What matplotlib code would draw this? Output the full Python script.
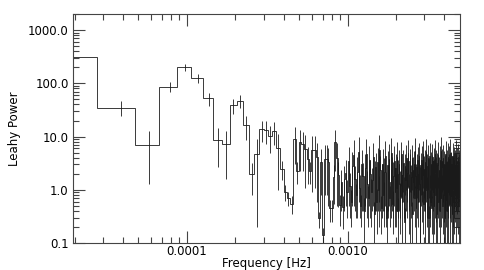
import numpy as np
import matplotlib
matplotlib.use("Agg")
import matplotlib.pyplot as plt
from matplotlib.ticker import FixedLocator, FormatStrFormatter, LogLocator, NullFormatter

# frequency resolution of the periodogram (Hz) and number of bins
df = 1.95e-5
nbins = 256

# Leahy powers, one per frequency bin k = 1..256
power = [
    317, 35, 7.0, 86, 200, 125, 52, 8.7, 7.1, 39,
    47, 16.6, 2.0, 4.6, 13.9, 13.3, 10.4, 12.9, 6.0, 2.5,
    0.91, 0.69, 0.55, 9.1, 2.3, 7.8, 7.3, 5.9, 3.8, 2.3,
    5.6, 5.6, 4.1, 0.29, 3.3, 0.14, 3.8, 3.8, 3.3, 0.45,
    0.45, 1.74, 7.8, 4.0, 1.87, 0.51, 1.4, 0.48, 1.6,
    2.1, 0.9, 3.4, 1.2, 0.6, 2.8, 4.5, 1.6, 0.8, 2.2,
    5.2, 1.1, 0.5, 3.0, 1.8, 0.4, 2.6, 4.8, 1.3, 0.7,
    3.6, 2.0, 0.9, 1.5, 4.1, 0.35, 1.9, 2.7, 0.6, 3.3,
    1.0, 5.6, 2.4, 0.45, 1.7, 3.1, 0.8, 2.2, 4.4, 1.2,
    0.3, 2.9, 1.6, 3.8, 0.7, 1.4, 5.0, 2.3, 0.55, 1.8,
    3.5, 0.9, 2.6, 1.1, 4.2, 0.4, 2.0, 3.0, 1.3, 0.75,
    2.5, 4.6, 0.6, 1.9, 3.2, 1.0, 0.25, 2.8, 1.5, 3.9,
    0.8, 2.1, 4.9, 1.2, 0.5, 3.4, 2.2, 0.9, 1.7, 4.0,
    0.35, 2.4, 1.4, 3.1, 0.7, 5.3, 1.8, 0.45, 2.7, 1.1,
    3.6, 0.6, 2.0, 4.3, 1.3, 0.3, 2.9, 1.6, 3.7, 0.85,
    1.9, 4.7, 0.55, 2.5, 1.2, 3.3, 0.4, 2.1, 5.1, 1.0,
    0.7, 2.8, 1.5, 3.9, 0.3, 2.3, 4.4, 1.1, 0.6, 3.0,
    1.7, 0.45, 2.6, 4.1, 0.9, 1.4, 3.5, 0.5, 2.2, 1.2,
    4.8, 0.8, 2.0, 3.2, 0.35, 1.6, 2.9, 1.0, 4.5, 0.6,
    2.4, 1.3, 3.7, 0.4, 1.9, 5.4, 0.7, 2.7, 1.1, 3.4,
    0.5, 2.1, 4.0, 1.4, 0.8, 3.1, 1.8, 0.3, 2.6, 4.6,
    1.2, 0.65, 3.3, 2.0, 0.4, 1.5, 4.2, 0.9, 2.8, 1.6,
    3.8, 0.55, 2.3, 1.0, 5.0, 0.75, 1.7, 3.0, 0.35, 2.5,
    1.3, 4.4, 0.6, 2.0, 3.6, 1.1, 0.45, 2.9, 1.5, 3.2,
    0.8, 4.9, 1.9, 0.4, 2.6, 1.2, 3.5, 0.7, 2.2, 1.4,
    4.1, 0.5, 2.7, 1.0, 3.3, 0.6, 2.0,
]

# 1-sigma error on each power
error = [
    0.0, 11.0, 5.7, 18.0, 29.0, 22.0, 14.4, 6.0, 5.5, 12.0,
    13.0, 8.0, 1.2, 4.4, 6.0, 6.0, 5.5, 6.0, 5.0, 1.0,
    0.3, 0.2, 0.2, 6.0, 1.0, 5.5, 5.0, 4.8, 2.5, 1.0,
    4.7, 4.5, 3.5, 0.1, 2.5, 0.05, 3.0, 3.0, 2.8, 0.2,
    0.2, 1.2, 5.5, 3.5, 1.4, 0.3, 1.0, 0.3, 1.2,
    1.6, 0.6, 2.9, 0.9, 0.4, 2.3, 4.0, 1.2, 0.5, 1.9,
    4.6, 0.8, 0.3, 2.6, 1.4, 0.3, 2.1, 4.1, 1.0, 0.5,
    3.1, 1.7, 0.7, 1.1, 3.6, 0.25, 1.5, 2.3, 0.45, 2.9,
    0.8, 5.0, 2.0, 0.3, 1.4, 2.7, 0.6, 1.8, 3.9, 1.0,
    0.2, 2.5, 1.3, 3.3, 0.5, 1.1, 4.5, 1.9, 0.4, 1.5,
    3.0, 0.7, 2.2, 0.9, 3.8, 0.3, 1.7, 2.6, 1.0, 0.6,
    1.8, 3.4, 0.7, 1.3, 2.3, 0.7, 0.2, 2.0, 1.1, 2.9,
    0.5, 1.5, 3.8, 0.8, 0.35, 2.5, 2.4, 0.6, 1.2, 3.0,
    0.25, 1.7, 1.0, 2.3, 0.5, 4.2, 1.3, 0.5, 2.0, 0.8,
    2.7, 0.4, 1.4, 3.3, 1.4, 0.2, 2.1, 1.1, 2.8, 0.6,
    1.3, 3.6, 0.4, 1.8, 0.8, 2.4, 0.45, 1.5, 4.0, 0.7,
    0.5, 2.0, 1.6, 2.9, 0.2, 1.6, 3.3, 0.8, 0.4, 2.2,
    1.2, 0.3, 1.9, 3.1, 0.95, 1.0, 2.6, 0.35, 1.6, 0.9,
    3.7, 0.55, 2.1, 2.3, 0.25, 1.1, 2.1, 0.7, 3.4, 0.4,
    1.7, 0.9, 2.8, 0.45, 1.3, 4.2, 0.5, 2.0, 0.8, 2.5,
    0.35, 1.5, 3.0, 1.5, 0.55, 2.3, 1.3, 0.2, 1.9, 3.5,
    0.8, 0.45, 2.4, 1.4, 0.3, 1.6, 3.2, 0.6, 2.0, 1.1,
    2.9, 0.6, 1.6, 0.7, 3.9, 0.5, 1.2, 2.2, 0.25, 1.8,
    0.9, 3.3, 0.4, 2.1, 2.7, 0.8, 0.3, 2.1, 1.0, 2.4,
    0.55, 3.8, 1.3, 0.45, 1.9, 0.85, 2.6, 0.5, 1.6, 1.0,
    3.1, 0.35, 2.0, 1.05, 2.4, 0.4, 1.4,
]

ytick_vals = [0.1, 1.0, 10.0, 100.0, 1000.0]
xtick_vals = [1e-4, 1e-3]

power = np.array(power, dtype=float)
error = np.array(error, dtype=float)
freq = df * np.arange(1, len(power) + 1)

# bin edges half-way (in log space) between neighbouring frequencies
mids = np.sqrt(freq[:-1] * freq[1:])
edges = np.concatenate([[freq[0]], mids, [freq[-1]]])

plt.rcParams['font.family'] = ['DejaVu Sans']
fig = plt.figure(figsize=(4.85, 2.70), dpi=100)
ax = fig.add_axes([0.150, 0.100, 0.798, 0.848])

ax.stairs(power, edges, baseline=None, color='#1a1a1a', linewidth=0.6)
lower = np.minimum(error, power - 1e-4)
ax.errorbar(freq, power, yerr=[lower, error], fmt='none', ecolor='#1a1a1a',
            elinewidth=0.6, capsize=0)

ax.set_xscale('log')
ax.set_yscale('log')
ax.set_xlim(df, df * nbins)
ax.set_ylim(0.1, 2000)

ax.xaxis.set_major_locator(FixedLocator(xtick_vals))
ax.xaxis.set_major_formatter(FormatStrFormatter('%.4f'))
ax.xaxis.set_minor_locator(LogLocator(base=10, subs=np.arange(2, 10)))
ax.xaxis.set_minor_formatter(NullFormatter())
ax.yaxis.set_major_locator(FixedLocator(ytick_vals))
ax.yaxis.set_major_formatter(FormatStrFormatter('%.1f'))
ax.yaxis.set_minor_locator(LogLocator(base=10, subs=np.arange(2, 10)))
ax.yaxis.set_minor_formatter(NullFormatter())

ax.tick_params(which='both', direction='in', top=True, right=True,
               color='#444444', width=0.8, labelsize=8.5)
ax.tick_params(axis='x', which='both', pad=1.5)
ax.tick_params(axis='y', which='both', pad=3)
ax.tick_params(which='major', length=8.5)
ax.tick_params(which='minor', length=4.5)
for s in ax.spines.values():
    s.set_linewidth(0.8)
    s.set_color('#444444')

ax.set_xlabel('Frequency [Hz]', fontsize=8.5, labelpad=-1)
ax.set_ylabel('Leahy Power', fontsize=8.5, labelpad=5)

fig.savefig('out.png', dpi=100)
